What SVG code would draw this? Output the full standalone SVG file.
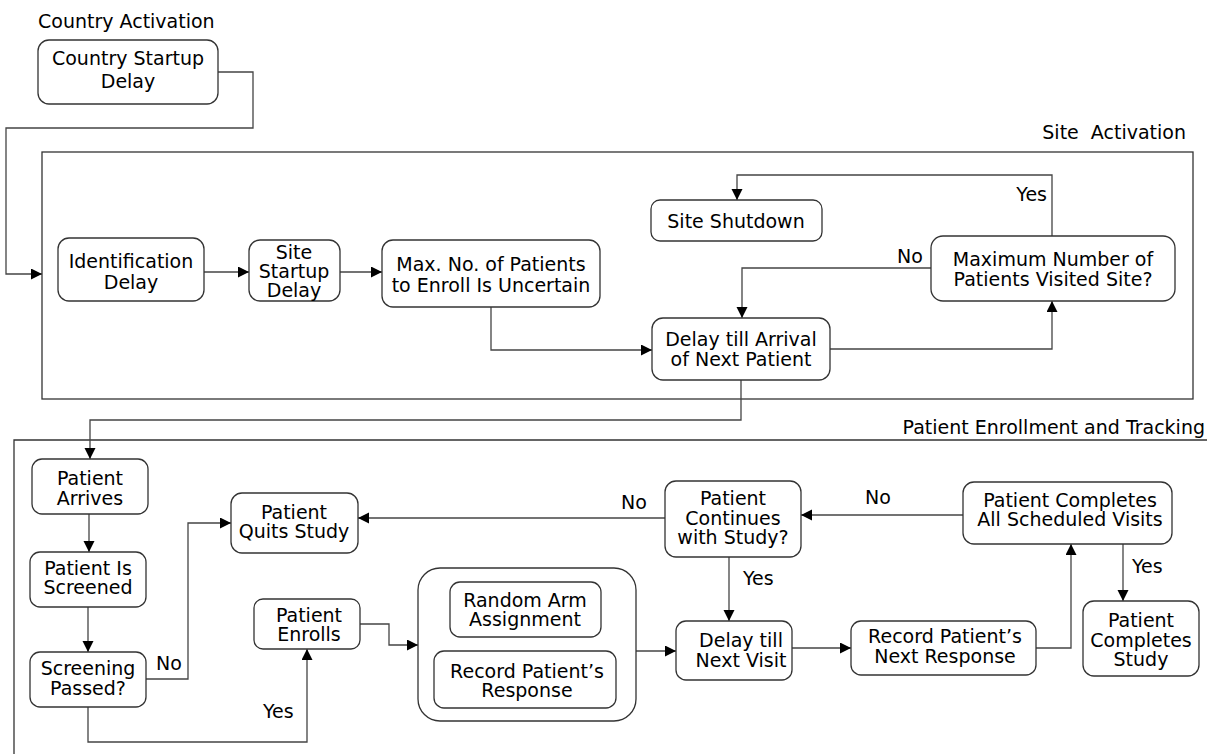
<svg xmlns="http://www.w3.org/2000/svg" width="1207" height="754" viewBox="0 0 1207 754">
<style>
text{font-family:"DejaVu Sans",Verdana,sans-serif;font-size:19px;fill:#000;white-space:pre}
.c{text-anchor:middle}
.e{text-anchor:end}
.n{fill:#fff;stroke:#333;stroke-width:1.3}
.frame{fill:none;stroke:#333;stroke-width:1.3}
.l{fill:none;stroke:#444;stroke-width:1.3;marker-end:url(#a)}
.p{fill:none;stroke:#444;stroke-width:1.3}
</style>
<defs>
<marker id="a" markerUnits="userSpaceOnUse" markerWidth="12" markerHeight="12" refX="11" refY="5.5" orient="auto">
<path d="M0,0 L11,5.5 L0,11 z" fill="#000"/>
</marker>
</defs>
<rect width="1207" height="754" fill="#fff"/>

<g id="frames">
<text x="38" y="28">Country Activation</text>
<rect class="frame" x="42" y="152" width="1151" height="247"/>
<text class="e" x="1186" y="139">Site  Activation</text>
<path class="frame" d="M1207,440 H14 V754"/>
<text class="e" x="1205" y="434">Patient Enrollment and Tracking</text>
</g>

<g id="connectors">
<path class="l" d="M218,72 H253 V128 H6 V274 H42"/>
<path class="l" d="M204,272 H249"/>
<path class="l" d="M340,272 H382"/>
<path class="l" d="M491,307 V350 H652"/>
<path class="l" d="M830,349 H1052 V301"/>
<path class="l" d="M1052,236 V175 H737 V200"/>
<text class="e" x="1047" y="201">Yes</text>
<path class="l" d="M931,268 H742 V318"/>
<text x="897" y="263">No</text>
<path class="l" d="M741,380 V420 H90 V459"/>
<path class="l" d="M89,514 V552"/>
<path class="l" d="M88,607 V652"/>
<path class="l" d="M146,679 H188 V523 H231"/>
<text x="156" y="670">No</text>
<path class="l" d="M88,707 V742 H307 V649"/>
<text x="263" y="718">Yes</text>
<path class="l" d="M360,624 H389 V645 H418"/>
<path class="l" d="M636,651 H676"/>
<path class="l" d="M792,648 H851"/>
<path class="l" d="M1036,648 H1071 V544"/>
<path class="l" d="M963,515 H801"/>
<text x="865" y="504">No</text>
<path class="l" d="M1123,544 V601"/>
<text x="1132" y="573">Yes</text>
<path class="l" d="M665,518 H358"/>
<text x="621" y="509">No</text>
<path class="l" d="M729,557 V621"/>
<text x="743" y="585">Yes</text>
</g>

<g id="country-startup-delay">
<rect class="n" x="38" y="40" width="180" height="64" rx="11"/>
<text class="c" x="128" y="65">Country Startup</text>
<text class="c" x="128" y="88">Delay</text>
</g>

<g id="identification-delay">
<rect class="n" x="58" y="238" width="146" height="63" rx="11"/>
<text class="c" x="131" y="268">Identification</text>
<text class="c" x="131" y="289">Delay</text>
</g>

<g id="site-startup-delay">
<rect class="n" x="249" y="240" width="91" height="61" rx="11"/>
<text class="c" x="294" y="259">Site</text>
<text class="c" x="294" y="278">Startup</text>
<text class="c" x="294" y="297">Delay</text>
</g>

<g id="max-patients-uncertain">
<rect class="n" x="382" y="240" width="218" height="67" rx="11"/>
<text class="c" x="491" y="271">Max. No. of Patients</text>
<text class="c" x="491" y="292">to Enroll Is Uncertain</text>
</g>

<g id="site-shutdown">
<rect class="n" x="651" y="200" width="171" height="41" rx="9"/>
<text class="c" x="736" y="228">Site Shutdown</text>
</g>

<g id="max-number-visited">
<rect class="n" x="931" y="236" width="244" height="65" rx="12"/>
<text class="c" x="1053" y="266">Maximum Number of</text>
<text class="c" x="1053" y="286">Patients Visited Site?</text>
</g>

<g id="delay-arrival">
<rect class="n" x="652" y="318" width="178" height="62" rx="11"/>
<text class="c" x="741" y="346">Delay till Arrival</text>
<text class="c" x="741" y="366">of Next Patient</text>
</g>

<g id="patient-arrives">
<rect class="n" x="32" y="459" width="116" height="55" rx="10"/>
<text class="c" x="90" y="485">Patient</text>
<text class="c" x="90" y="505">Arrives</text>
</g>

<g id="patient-screened">
<rect class="n" x="30" y="552" width="116" height="55" rx="10"/>
<text class="c" x="88" y="575">Patient Is</text>
<text class="c" x="88" y="594">Screened</text>
</g>

<g id="screening-passed">
<rect class="n" x="30" y="652" width="116" height="55" rx="10"/>
<text class="c" x="88" y="675">Screening</text>
<text class="c" x="88" y="695">Passed?</text>
</g>

<g id="patient-quits">
<rect class="n" x="231" y="493" width="127" height="60" rx="11"/>
<text class="c" x="294" y="519">Patient</text>
<text class="c" x="294" y="538">Quits Study</text>
</g>

<g id="patient-enrolls">
<rect class="n" x="254" y="599" width="106" height="50" rx="9"/>
<text class="c" x="309" y="622">Patient</text>
<text class="c" x="309" y="641">Enrolls</text>
</g>

<g id="assignment-group">
<rect class="n" x="418" y="568" width="218" height="153" rx="22"/>
<g id="random-arm">
<rect class="n" x="450" y="582" width="151" height="55" rx="10"/>
<text class="c" x="525" y="607">Random Arm</text>
<text class="c" x="525" y="626">Assignment</text>
</g>
<g id="record-response">
<rect class="n" x="434" y="651" width="182" height="57" rx="10"/>
<text class="c" x="527" y="678">Record Patient’s</text>
<text class="c" x="527" y="697">Response</text>
</g>
</g>

<g id="delay-next-visit">
<rect class="n" x="676" y="621" width="116" height="59" rx="10"/>
<text class="c" x="741" y="647">Delay till</text>
<text class="c" x="741" y="667">Next Visit</text>
</g>

<g id="patient-continues">
<rect class="n" x="665" y="481" width="136" height="76" rx="11"/>
<text class="c" x="733" y="505">Patient</text>
<text class="c" x="733" y="525">Continues</text>
<text class="c" x="733" y="544">with Study?</text>
</g>

<g id="completes-visits">
<rect class="n" x="963" y="482" width="209" height="62" rx="11"/>
<text class="c" x="1070" y="507">Patient Completes</text>
<text class="c" x="1070" y="526">All Scheduled Visits</text>
</g>

<g id="record-next-response">
<rect class="n" x="851" y="621" width="185" height="54" rx="10"/>
<text class="c" x="945" y="643">Record Patient’s</text>
<text class="c" x="945" y="663">Next Response</text>
</g>

<g id="completes-study">
<rect class="n" x="1083" y="601" width="116" height="75" rx="11"/>
<text class="c" x="1141" y="627">Patient</text>
<text class="c" x="1141" y="647">Completes</text>
<text class="c" x="1141" y="666">Study</text>
</g>
</svg>
